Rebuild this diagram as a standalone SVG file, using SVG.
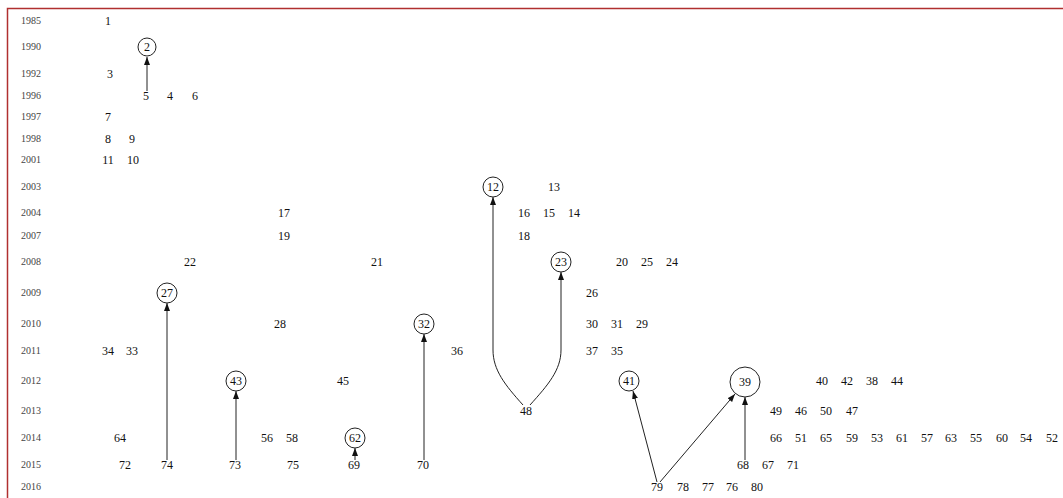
<svg xmlns="http://www.w3.org/2000/svg" width="1063" height="498" viewBox="0 0 1063 498">
<style>
.yr{font-family:"Liberation Serif","Times New Roman",serif;font-size:10px;fill:#444}
.n text{font-family:"Liberation Serif","Times New Roman",serif;font-size:12px;fill:#111;text-anchor:middle}
.c{fill:none;stroke:#222;stroke-width:1}
.e{fill:none;stroke:#222;stroke-width:1;marker-end:url(#ah)}
</style>
<defs>
<marker id="ah" viewBox="0 0 8 6" refX="8" refY="3" markerWidth="8" markerHeight="6" markerUnits="userSpaceOnUse" orient="auto">
<path d="M0,0 L8,3 L0,6 Z" fill="#111"/>
</marker>
</defs>
<rect width="1063" height="498" fill="#fff"/>
<path d="M7.5,498 V8.5 H1063" fill="none" stroke="#b03030" stroke-width="1.5"/>
<g id="years">
<text class="yr" x="21" y="24">1985</text>
<text class="yr" x="21" y="50">1990</text>
<text class="yr" x="21" y="77">1992</text>
<text class="yr" x="21" y="99">1996</text>
<text class="yr" x="21" y="120">1997</text>
<text class="yr" x="21" y="142">1998</text>
<text class="yr" x="21" y="163">2001</text>
<text class="yr" x="21" y="190">2003</text>
<text class="yr" x="21" y="216">2004</text>
<text class="yr" x="21" y="239">2007</text>
<text class="yr" x="21" y="265">2008</text>
<text class="yr" x="21" y="296">2009</text>
<text class="yr" x="21" y="327">2010</text>
<text class="yr" x="21" y="354">2011</text>
<text class="yr" x="21" y="384">2012</text>
<text class="yr" x="21" y="414">2013</text>
<text class="yr" x="21" y="441">2014</text>
<text class="yr" x="21" y="468">2015</text>
<text class="yr" x="21" y="490">2016</text>
</g>
<g id="connectors">
<path class="e" d="M147,91 V57"/>
<path class="e" d="M167,460 V303"/>
<path class="e" d="M236,460 V391"/>
<path class="e" d="M355,460 V448"/>
<path class="e" d="M424,460 V334"/>
<path class="e" d="M523,405 C505,385 493,370 493,350 V197"/>
<path class="e" d="M530,405 C548,385 561,370 561,350 V272"/>
<path class="e" d="M657,482 L633,391"/>
<path class="e" d="M660,482 L735,394"/>
<path class="e" d="M745,460 V397"/>
</g>
<g class="n">
<g id="n1"><text x="108" y="25">1</text></g>
<g id="n2"><circle class="c" cx="147" cy="47" r="9"/><text x="147" y="51">2</text></g>
<g id="n3"><text x="110" y="78">3</text></g>
<g id="n5"><text x="146" y="100">5</text></g>
<g id="n4"><text x="170" y="100">4</text></g>
<g id="n6"><text x="195" y="100">6</text></g>
<g id="n7"><text x="108" y="121">7</text></g>
<g id="n8"><text x="108" y="143">8</text></g>
<g id="n9"><text x="132" y="143">9</text></g>
<g id="n11"><text x="108" y="164">11</text></g>
<g id="n10"><text x="133" y="164">10</text></g>
<g id="n12"><circle class="c" cx="493" cy="187" r="10"/><text x="493" y="191">12</text></g>
<g id="n13"><text x="554" y="191">13</text></g>
<g id="n17"><text x="284" y="217">17</text></g>
<g id="n16"><text x="524" y="217">16</text></g>
<g id="n15"><text x="549" y="217">15</text></g>
<g id="n14"><text x="574" y="217">14</text></g>
<g id="n19"><text x="284" y="240">19</text></g>
<g id="n18"><text x="524" y="240">18</text></g>
<g id="n22"><text x="190" y="266">22</text></g>
<g id="n21"><text x="377" y="266">21</text></g>
<g id="n23"><circle class="c" cx="561" cy="262" r="10"/><text x="561" y="266">23</text></g>
<g id="n20"><text x="622" y="266">20</text></g>
<g id="n25"><text x="647" y="266">25</text></g>
<g id="n24"><text x="672" y="266">24</text></g>
<g id="n27"><circle class="c" cx="167" cy="293" r="10"/><text x="167" y="297">27</text></g>
<g id="n26"><text x="592" y="297">26</text></g>
<g id="n28"><text x="280" y="328">28</text></g>
<g id="n32"><circle class="c" cx="424" cy="324" r="10"/><text x="424" y="328">32</text></g>
<g id="n30"><text x="592" y="328">30</text></g>
<g id="n31"><text x="617" y="328">31</text></g>
<g id="n29"><text x="642" y="328">29</text></g>
<g id="n34"><text x="108" y="355">34</text></g>
<g id="n33"><text x="132" y="355">33</text></g>
<g id="n36"><text x="457" y="355">36</text></g>
<g id="n37"><text x="592" y="355">37</text></g>
<g id="n35"><text x="617" y="355">35</text></g>
<g id="n43"><circle class="c" cx="236" cy="381" r="10"/><text x="236" y="385">43</text></g>
<g id="n45"><text x="343" y="385">45</text></g>
<g id="n41"><circle class="c" cx="629" cy="381" r="10"/><text x="629" y="385">41</text></g>
<g id="n39"><circle class="c" cx="745" cy="382" r="15"/><text x="745" y="386">39</text></g>
<g id="n40"><text x="822" y="385">40</text></g>
<g id="n42"><text x="847" y="385">42</text></g>
<g id="n38"><text x="872" y="385">38</text></g>
<g id="n44"><text x="897" y="385">44</text></g>
<g id="n48"><text x="526" y="415">48</text></g>
<g id="n49"><text x="776" y="415">49</text></g>
<g id="n46"><text x="801" y="415">46</text></g>
<g id="n50"><text x="826" y="415">50</text></g>
<g id="n47"><text x="852" y="415">47</text></g>
<g id="n64"><text x="120" y="442">64</text></g>
<g id="n56"><text x="267" y="442">56</text></g>
<g id="n58"><text x="292" y="442">58</text></g>
<g id="n62"><circle class="c" cx="355" cy="438" r="10"/><text x="355" y="442">62</text></g>
<g id="n66"><text x="776" y="442">66</text></g>
<g id="n51"><text x="801" y="442">51</text></g>
<g id="n65"><text x="826" y="442">65</text></g>
<g id="n59"><text x="852" y="442">59</text></g>
<g id="n53"><text x="877" y="442">53</text></g>
<g id="n61"><text x="902" y="442">61</text></g>
<g id="n57"><text x="927" y="442">57</text></g>
<g id="n63"><text x="951" y="442">63</text></g>
<g id="n55"><text x="976" y="442">55</text></g>
<g id="n60"><text x="1002" y="442">60</text></g>
<g id="n54"><text x="1026" y="442">54</text></g>
<g id="n52"><text x="1052" y="442">52</text></g>
<g id="n72"><text x="125" y="469">72</text></g>
<g id="n74"><text x="167" y="469">74</text></g>
<g id="n73"><text x="235" y="469">73</text></g>
<g id="n75"><text x="293" y="469">75</text></g>
<g id="n69"><text x="354" y="469">69</text></g>
<g id="n70"><text x="423" y="469">70</text></g>
<g id="n68"><text x="743" y="469">68</text></g>
<g id="n67"><text x="768" y="469">67</text></g>
<g id="n71"><text x="793" y="469">71</text></g>
<g id="n79"><text x="657" y="491">79</text></g>
<g id="n78"><text x="683" y="491">78</text></g>
<g id="n77"><text x="708" y="491">77</text></g>
<g id="n76"><text x="732" y="491">76</text></g>
<g id="n80"><text x="757" y="491">80</text></g>
</g>
</svg>
